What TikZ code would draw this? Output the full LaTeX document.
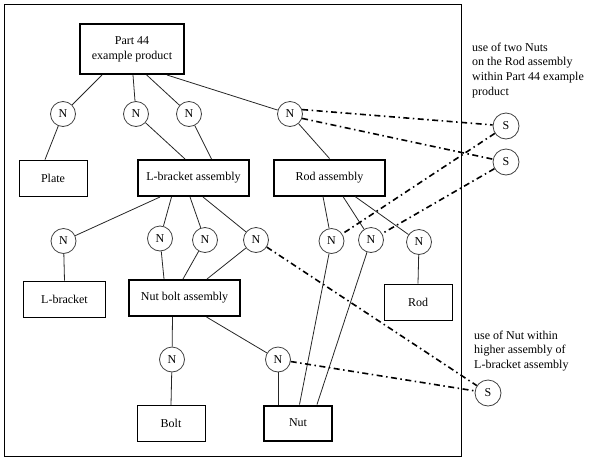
\documentclass[tikz,border=0pt]{standalone}
\usepackage{fontspec}
\setmainfont{Liberation Serif}
\usepackage{tikz}

\begin{document}
\begin{tikzpicture}[x=1pt, y=-1pt,
    every node/.style={font=\fontsize{12}{14.7}\selectfont, inner sep=0pt},
    partbox/.style={draw, line width=0.8pt, minimum width=68pt, minimum height=36pt},
    asmbox/.style={draw, line width=2pt, minimum width=111pt, minimum height=36pt},
    usenode/.style={draw=black!75, circle, line width=0.8pt, minimum size=25pt},
    sharednode/.style={draw=black!75, circle, line width=0.8pt, minimum size=26pt},
    link/.style={line width=0.8pt, black!85},
    shareline/.style={line width=1.6pt, dash pattern=on 6pt off 3.5pt on 1.5pt off 3.5pt}]
   \useasboundingbox (0,0) rectangle (591,461);
   \draw[line width=0.8pt] (4,4) rectangle (461,456);

   % assemblies and parts
   \node[asmbox, minimum width=104pt, minimum height=50pt, align=center] (part44) at (132,49) {Part 44\\example product};
   \node[partbox] (plate) at (53,178) {Plate};
   \node[asmbox] (lbasm) at (193.5,178) {L-bracket assembly};
   \node[asmbox] (rodasm) at (329.5,177.5) {Rod assembly};
   \node[partbox, minimum width=82pt] (lbracket) at (64.5,299) {L-bracket};
   \node[asmbox] (nbasm) at (184.5,298) {Nut bolt assembly};
   \node[partbox] (rod) at (418,302) {Rod};
   \node[partbox] (bolt) at (171,423.5) {Bolt};
   \node[asmbox, minimum width=68pt, minimum height=35pt] (nut) at (298,423) {Nut};

   % next assembly usage occurrences
   \node[usenode] (n1) at (63,114) {N};
   \node[usenode] (n2) at (136,114) {N};
   \node[usenode] (n3) at (189,114) {N};
   \node[usenode] (n4) at (290,114) {N};
   \node[usenode] (n5) at (63.5,241) {N};
   \node[usenode] (n6) at (160,238.5) {N};
   \node[usenode] (n7) at (205,240) {N};
   \node[usenode] (n8) at (256,240) {N};
   \node[usenode] (n9) at (331.5,241) {N};
   \node[usenode] (n10) at (371,240) {N};
   \node[usenode] (n11) at (419,242) {N};
   \node[usenode] (n12) at (172,359.5) {N};
   \node[usenode] (n13) at (278,359.5) {N};

   % specified higher usage occurrences
   \node[sharednode] (s1) at (506,126) {S};
   \node[sharednode] (s2) at (506,162) {S};
   \node[sharednode] (s3) at (488,393) {S};

   \node[anchor=north west, align=left] (note1) at (472,42.5) {use of two Nuts\\on the Rod assembly\\within Part 44 example\\product};
   \node[anchor=north west, align=left] (note2) at (474,330.5) {use of Nut within\\higher assembly of\\L-bracket assembly};

   \draw[link] ([xshift=-30pt]part44.south) -- (n1);
   \draw[link] ([xshift=1pt]part44.south) -- (n2);
   \draw[link] ([xshift=14.7pt]part44.south) -- (n3);
   \draw[link] ([xshift=35pt]part44.south) -- (n4);
   \draw[link] (n1) -- ([xshift=-8pt]plate.north);
   \draw[link] (n2) -- ([xshift=-8.5pt]lbasm.north);
   \draw[link] (n3) -- ([xshift=18pt]lbasm.north);
   \draw[link] (n4) -- (rodasm.north);

   \draw[link] ([xshift=-33.5pt]lbasm.south) -- (n5);
   \draw[link] ([xshift=-22pt]lbasm.south) -- (n6);
   \draw[link] ([xshift=-3.5pt]lbasm.south) -- (n7);
   \draw[link] ([xshift=9.5pt]lbasm.south) -- (n8);
   \draw[link] ([xshift=-6.5pt]rodasm.south) -- (n9);
   \draw[link] ([xshift=13.5pt]rodasm.south) -- (n10);
   \draw[link] ([xshift=25.5pt]rodasm.south) -- (n11);

   \draw[link] (n5) -- (lbracket.north);
   \draw[link] (n6) -- ([xshift=-20.5pt]nbasm.north);
   \draw[link] (n7) -- ([xshift=-1.5pt]nbasm.north);
   \draw[link] (n8) -- ([xshift=22.5pt]nbasm.north);
   \draw[link] (n11) -- (rod.north);

   \draw[link] ([xshift=-12pt]nbasm.south) -- (n12);
   \draw[link] ([xshift=22pt]nbasm.south) -- (n13);
   \draw[link] (n12) -- (bolt.north);
   \draw[link] (n13) -- ([xshift=-20pt]nut.north);
   \draw[link] (n9) -- ([xshift=1.5pt]nut.north);
   \draw[link] (n10) -- ([xshift=19pt]nut.north);

   \draw[shareline] (n4.20) -- (s1);
   \draw[shareline] (n4.-20) -- (s2);
   \draw[shareline] (s1) -- (n9);
   \draw[shareline] (s2) -- (n10);
   \draw[shareline] (n8) -- (s3);
   \draw[shareline] (n13) -- (s3);
\end{tikzpicture}
\end{document}
